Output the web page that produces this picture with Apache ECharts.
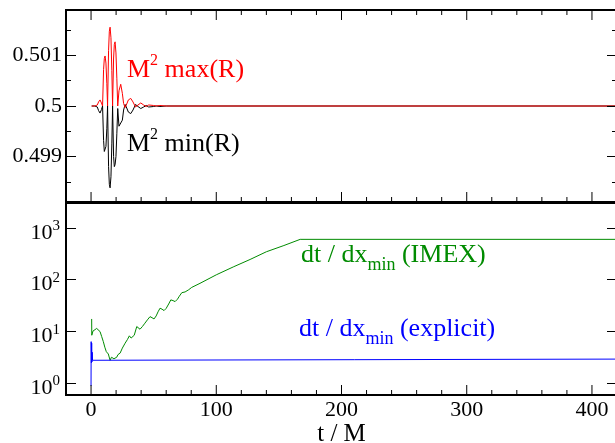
<!DOCTYPE html>
<html><head><meta charset="utf-8">
<script src="https://cdn.jsdelivr.net/npm/echarts@6/dist/echarts.min.js"></script>
<style>html,body{margin:0;padding:0;background:#fff}#c{width:615px;height:443px}</style>
</head><body><div id="c"></div>
<script>
// ---------- data ----------
const xMajorTicks = [0, 100, 200, 300, 400];
const xMinorTicks = [20, 40, 60, 80, 120, 140, 160, 180, 220, 240, 260, 280, 320, 340, 360, 380];
const topYMajor = [0.499, 0.5, 0.501];
const topYMinor = [0.4985, 0.4995, 0.5005, 0.5015];
const logTicks = [1, 10, 100, 1000];

// top panel: M^2 max(R) and M^2 min(R)
const tTop = [0.5, 3, 5, 6, 7.2, 8.3, 9.2, 10, 10.6, 11.2, 11.9, 12.6, 13.2, 14, 14.6, 15.2, 15.9, 16.6, 17.2, 18, 18.6, 19.2, 19.9, 20.6, 21.3, 22.3, 23.7, 25, 26, 27.2, 28.5, 29.8, 31.7, 33.5, 35.5, 37.5, 39.7, 42, 44, 46, 47.5, 50, 52, 55, 60, 420];
const mMax = [0.5, 0.5, 0.50002, 0.50008, 0.50012, 0.50006, 0.5, 0.50072, 0.50094, 0.50099, 0.50085, 0.50045, 0.5, 0.50110, 0.50148, 0.50156, 0.50135, 0.50070, 0.5, 0.50095, 0.50122, 0.50127, 0.50105, 0.50055, 0.5, 0.50030, 0.50043, 0.50025, 0.50005, 0.49997, 0.50004, 0.50012, 0.50015, 0.50008, 0.49998, 0.50002, 0.50006, 0.50002, 0.49999, 0.50002, 0.50003, 0.50001, 0.5, 0.50001, 0.5, 0.5];
const mMin = [0.5, 0.5, 0.49998, 0.49991, 0.49986, 0.49993, 0.5, 0.49932, 0.49910, 0.49907, 0.49920, 0.49955, 0.5, 0.49880, 0.49845, 0.49838, 0.49860, 0.49925, 0.5, 0.49900, 0.49880, 0.49884, 0.49900, 0.49945, 0.49995, 0.49960, 0.49957, 0.49972, 0.49992, 0.50003, 0.49996, 0.49988, 0.49985, 0.49992, 0.50003, 0.49999, 0.49995, 0.49998, 0.50001, 0.49998, 0.49997, 0.49999, 0.5, 0.49999, 0.5, 0.5];

// bottom panel: dt/dx_min
const tImex = [0.5, 0.6, 1.5, 3, 4.5, 6, 7.2, 8.5, 9.8, 11, 12.2, 13.8, 15.2, 16.3, 17.3, 18.3, 19.2, 20.5, 21.5, 23.2, 25, 27.2, 29, 30.6, 32, 33, 34.5, 36.5, 38, 39.1, 41, 43, 45, 47.1, 48.7, 50.3, 52, 53.5, 55.1, 56.7, 58.3, 60, 62, 63.7, 65.5, 67.1, 69, 70.5, 72.5, 75.1, 78, 80.4, 87, 100, 114, 127, 140, 154, 167, 420];
const imex = [17.5, 8.5, 10.2, 11, 11.5, 11.1, 10, 8, 6.4, 5, 4.1, 3.7, 2.8, 3.2, 3.4, 3, 2.75, 3.2, 3.6, 3.84, 4.8, 5.97, 7, 8.28, 7.5, 6.9, 8.5, 12.5, 11.5, 11.1, 12.5, 14.5, 16.8, 19.4, 18.5, 17.5, 20, 24, 28.2, 27, 25.4, 28, 34, 40.8, 39.5, 37.8, 42, 48, 56.2, 58, 64, 71, 85, 124, 178, 245, 345, 455, 598, 598];
const tExpl = [0, 0.1, 0.3, 0.5, 0.7, 0.9, 1.2, 1.6, 2.5, 420];
const expl = [0.9, 6.4, 2.5, 6, 2.6, 4, 2.8, 3.0, 2.95, 2.95];

// ---------- build ----------
const FONT = "'Liberation Serif','Times New Roman',serif";
const pairs = (xs, ys) => xs.map((x, i) => [x, ys[i]]);
const X0 = -20, X1 = 420, Y0 = 0.4981, Y1 = 0.5019, L0 = 0.6, L1 = 3000;
const LEFT = 66, WIDTH = 551;

function ax(o) {
  return {
    type: o.type || 'value', gridIndex: o.grid, position: o.pos,
    min: o.min, max: o.max,
    axisLine: { show: false, onZero: false },
    splitLine: { show: false },
    axisTick: o.ticks ? { show: true, inside: true, length: o.len, customValues: o.ticks,
                lineStyle: { color: '#000', width: 1 } } : { show: false },
    minorTick: { show: false },
    axisLabel: o.label ? Object.assign({ show: true, customValues: o.ticks, color: '#000',
                fontSize: 22, fontFamily: FONT }, o.label) : { show: false },
    name: o.name, nameLocation: 'middle', nameGap: o.nameGap,
    nameTextStyle: { fontSize: 25, fontFamily: FONT, color: '#000' },
    z: 5
  };
}

const grids = [
  { left: LEFT, top: 10, width: WIDTH, height: 192, show: true, borderColor: '#000', borderWidth: 2, backgroundColor: 'transparent', outerBoundsMode: 'none' },
  { left: LEFT, top: 203, width: WIDTH, height: 192, show: true, borderColor: '#000', borderWidth: 2, backgroundColor: 'transparent', outerBoundsMode: 'none' }
];
const xAxes = [
  ax({ grid: 0, pos: 'bottom', min: X0, max: X1 }),
  ax({ grid: 1, pos: 'bottom', min: X0, max: X1, ticks: xMajorTicks, len: 0,
       label: { margin: 4 }, name: 't / M', nameGap: 25 })
];
const yAxes = [
  ax({ grid: 0, pos: 'left', min: Y0, max: Y1, len: 10, ticks: topYMajor,
       label: { margin: 4, formatter: v => (Math.abs(v - 0.5) < 1e-9 ? '0.5' : v.toFixed(3)) } }),
  ax({ grid: 0, pos: 'left', min: Y0, max: Y1, len: 5, ticks: topYMinor }),
  ax({ grid: 0, pos: 'right', min: Y0, max: Y1, len: 10, ticks: topYMajor }),
  ax({ grid: 0, pos: 'right', min: Y0, max: Y1, len: 5, ticks: topYMinor }),
  ax({ type: 'log', grid: 1, pos: 'left', min: L0, max: L1, len: 10, ticks: logTicks,
       label: { margin: 6,
         formatter: v => '{b|10}{s|' + Math.round(Math.log10(v)) + '}',
         rich: {
           b: { fontSize: 22, fontFamily: FONT, color: '#000', padding: [10, 0, 0, 0] },
           s: { fontSize: 15, fontFamily: FONT, color: '#000', padding: [0, 0, 4, 0] }
         } } }),
  ax({ type: 'log', grid: 1, pos: 'right', min: L0, max: L1, len: 10, ticks: logTicks })
];

const series = [
  { type: 'line', xAxisIndex: 0, yAxisIndex: 0, data: pairs(tTop, mMin), showSymbol: false,
    lineStyle: { color: '#000', width: 1 }, itemStyle: { color: '#000' }, clip: true },
  { type: 'line', xAxisIndex: 0, yAxisIndex: 0, data: pairs(tTop, mMax), showSymbol: false,
    lineStyle: { color: '#ff0000', width: 1 }, itemStyle: { color: '#ff0000' }, clip: true },
  { type: 'line', xAxisIndex: 1, yAxisIndex: 4, data: pairs(tImex, imex), showSymbol: false,
    lineStyle: { color: '#008b00', width: 1 }, itemStyle: { color: '#008b00' }, clip: true },
  { type: 'line', xAxisIndex: 1, yAxisIndex: 4, data: pairs(tExpl, expl), showSymbol: false,
    lineStyle: { color: '#0000ff', width: 1 }, itemStyle: { color: '#0000ff' }, clip: true }
];

// x-axis tick marks: thin rectangles placed at the tick values on the panel edges
// (edge = axis extent), pushed inward by half their length.
function tickMarks(xi, yi, edge, ticks, len, inward) {
  return {
    type: 'scatter', xAxisIndex: xi, yAxisIndex: yi, silent: true, clip: false, z: 6,
    data: ticks.map(v => [v, edge]),
    symbol: 'rect', symbolSize: [1, len], symbolOffset: [0, inward * len / 2],
    itemStyle: { color: '#000', opacity: 1 }, emphasis: { disabled: true }
  };
}
series.push(
  tickMarks(0, 0, Y0, xMajorTicks, 10, -1),
  tickMarks(0, 0, Y0, xMinorTicks, 5, -1),
  tickMarks(0, 0, Y1, xMajorTicks, 10, 1),
  tickMarks(0, 0, Y1, xMinorTicks, 5, 1),
  tickMarks(1, 4, L0, xMajorTicks, 10, -1),
  tickMarks(1, 4, L0, xMinorTicks, 5, -1)
);

const option = {
  animation: false,
  backgroundColor: '#fff',
  grid: grids, xAxis: xAxes, yAxis: yAxes, series: series,
  graphic: [
    { type: 'text', x: 127, y: 70, style: { text: '{m|M}{s|2}{m| max(R)}', verticalAlign: 'middle',
      rich: { m: { fontSize: 26, fontFamily: FONT, fill: '#ff0000' },
              s: { fontSize: 16, fontFamily: FONT, fill: '#ff0000', padding: [0, 0, 18, 0] } } } },
    { type: 'text', x: 127, y: 144, style: { text: '{m|M}{s|2}{m| min(R)}', verticalAlign: 'middle',
      rich: { m: { fontSize: 26, fontFamily: FONT, fill: '#000' },
              s: { fontSize: 16, fontFamily: FONT, fill: '#000', padding: [0, 0, 18, 0] } } } },
    { type: 'text', x: 301, y: 255, style: { text: '{m|dt / dx}{s|min}{m| (IMEX)}', verticalAlign: 'middle',
      rich: { m: { fontSize: 26, fontFamily: FONT, fill: '#008b00' },
              s: { fontSize: 18, fontFamily: FONT, fill: '#008b00', padding: [20, 0, 0, 0] } } } },
    { type: 'text', x: 299, y: 329, style: { text: '{m|dt / dx}{s|min}{m| (explicit)}', verticalAlign: 'middle',
      rich: { m: { fontSize: 26, fontFamily: FONT, fill: '#0000ff' },
              s: { fontSize: 18, fontFamily: FONT, fill: '#0000ff', padding: [20, 0, 0, 0] } } } }
  ]
};

const chart = echarts.init(document.getElementById('c'), null, { renderer: 'canvas' });
chart.setOption(option);
</script>
</body></html>
